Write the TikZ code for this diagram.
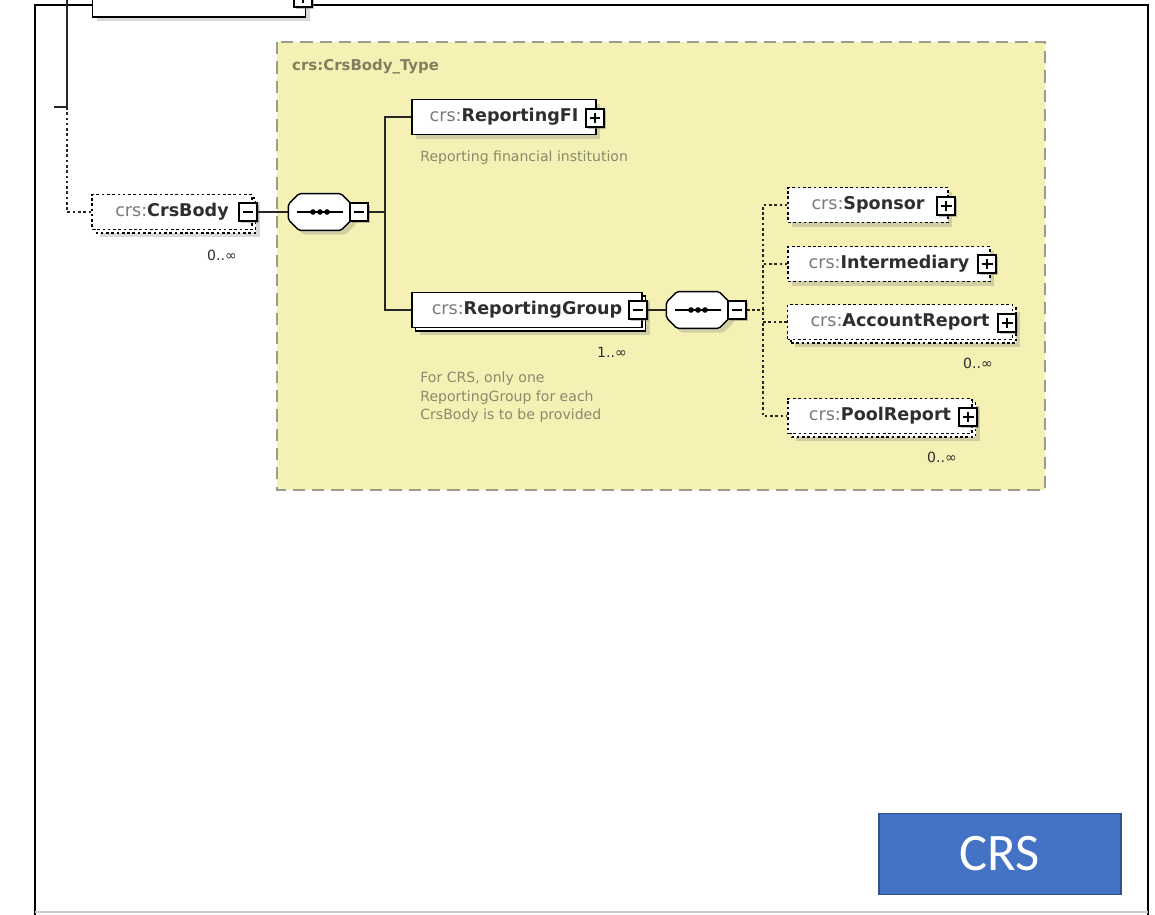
\documentclass[tikz,border=0pt]{standalone}
\usepackage{fontspec}
\setmainfont{DejaVu Sans}
\newfontfamily\crsfont{Carlito}
\usetikzlibrary{shadows}

\definecolor{typeyellow}{HTML}{F5F1B5}
\definecolor{typeborder}{HTML}{9C9C8C}
\definecolor{pfxgray}{HTML}{7A7A7A}
\definecolor{namedark}{HTML}{2E2E2E}
\definecolor{notegray}{HTML}{8A8A6C}
\definecolor{crsblue}{HTML}{4472C4}
\definecolor{crsedge}{HTML}{2F528F}

\newcommand{\elname}[1]{{\color{pfxgray}crs:}{\bfseries\color{namedark}#1}}

% sequence compositor: octagon with the three-dot line inside
\newcommand{\seqnode}[2]{%
  \node[seqbox] (#1) at (#2) {};
  \filldraw[seqedge] ([xshift=6pt]#1.north west) -- ([xshift=-6pt]#1.north east)
    -- ([yshift=-6pt]#1.north east) -- ([yshift=6pt]#1.south east)
    -- ([xshift=-6pt]#1.south east) -- ([xshift=6pt]#1.south west)
    -- ([yshift=6pt]#1.south west) -- ([yshift=-6pt]#1.north west) -- cycle;
  \draw[line width=1pt] ([xshift=5pt]#1.west) -- ([xshift=-5pt]#1.east);
  \foreach \dx in {-4pt,0pt,4pt}
    \fill ([xshift=\dx]#1.center) circle (1.6pt);
}

\tikzset{
  elem/.style={draw=black, fill=white, line width=0.7pt, minimum height=0.7cm,
    font=\fontsize{10}{11}\selectfont},
  single/.style={drop shadow={shadow xshift=2.5pt, shadow yshift=-2.5pt, opacity=0.3}},
  multi/.style={drop shadow={shadow xshift=4.5pt, shadow yshift=-4.5pt, opacity=0.3},
    copy shadow={shadow xshift=2pt, shadow yshift=-2pt}},
  optional/.style={dash pattern=on 1.5pt off 1.5pt},
  icon/.style={draw=black, fill=white, line width=1pt, minimum size=0.36cm, inner sep=0pt,
    drop shadow={shadow xshift=1pt, shadow yshift=-1pt, opacity=0.5}},
  plusicon/.style={icon, path picture={
    \draw[line width=0.6pt] ([yshift=-2pt]path picture bounding box.north) -- ([yshift=2pt]path picture bounding box.south)
      ([xshift=2pt]path picture bounding box.west) -- ([xshift=-2pt]path picture bounding box.east);}},
  minusicon/.style={icon, path picture={
    \draw[line width=0.6pt] ([xshift=2pt]path picture bounding box.west) -- ([xshift=-2pt]path picture bounding box.east);}},
  seqbox/.style={minimum width=1.25cm, minimum height=0.72cm, inner sep=0pt},
  seqedge/.style={draw=black, fill=white, line width=0.8pt, rounded corners=1pt,
    drop shadow={shadow xshift=2.5pt, shadow yshift=-2.5pt, opacity=0.3}},
  note/.style={font=\fontsize{8}{10.8}\selectfont, text=notegray, align=left, anchor=north west, inner sep=0pt},
  occurs/.style={font=\fontsize{8}{9}\selectfont, text=namedark, inner sep=0pt},
  solidlink/.style={draw=black!85, line width=0.8pt},
  optlink/.style={draw=black!85, line width=0.8pt, dash pattern=on 1.5pt off 1.5pt}
}

\begin{document}
\begin{tikzpicture}[x=0.02cm, y=-0.02cm]
    \useasboundingbox (0,0) rectangle (1155,915);
    \clip (0,0) rectangle (1155,915);

    % page frame
    \draw[line width=1.3pt] (35,920) -- (35,5) -- (1148,5) -- (1148,920);
    \draw[black!20, line width=1pt] (35,912) -- (1148,912);

    % complex type area
    \draw[typeborder, fill=typeyellow, line width=1.3pt, dash pattern=on 7pt off 4pt]
        (277,42) rectangle (1045,490);
    \node[anchor=west, font=\fontsize{8.5}{10}\selectfont\bfseries, text=black!60!olive!70] (typename) at (286,67) {crs:CrsBody\_Type};

    % elements
    \node[elem, single, minimum width=4.26cm, minimum height=1cm] (prev) at (199,-8) {};
    \node[plusicon] (mp) at (303,-2) {};

    \node[elem, multi, optional, minimum width=3.2cm] (body) at (172,212) {\elname{CrsBody}\hspace{10pt}};
    \node[minusicon] (m0) at (248,212) {};
    \node[occurs] (o0) at (222,255) {0..∞};

    \seqnode{s1}{320,212}
    \node[minusicon] (m1) at (359,212) {};

    \node[elem, single, minimum width=3.68cm] (fi) at (504,117) {\elname{ReportingFI}\hspace{10pt}};
    \node[plusicon] (mf) at (595,118) {};
    \node[note] (fitxt) at (420,150) {Reporting financial institution};

    \node[elem, multi, minimum width=4.6cm] (grp) at (527,310) {\elname{ReportingGroup}\hspace{10pt}};
    \node[minusicon] (mg) at (638,310) {};
    \node[occurs] (og) at (612,352) {1..∞};
    \node[note] (grptxt) at (420,371) {For CRS, only one\\ReportingGroup for each\\CrsBody is to be provided};

    \seqnode{s2}{698,310}
    \node[minusicon] (m2) at (737,310) {};

    \node[elem, single, optional, minimum width=3.2cm] (sp) at (868,205) {\elname{Sponsor}\hspace{10pt}};
    \node[plusicon] (msp) at (946,206) {};
    \node[elem, single, optional, minimum width=4.04cm] (im) at (889,264) {\elname{Intermediary}\hspace{10pt}};
    \node[plusicon] (mim) at (987,264) {};
    \node[elem, multi, optional, minimum width=4.5cm] (ar) at (900,322) {\elname{AccountReport}\hspace{10pt}};
    \node[plusicon] (mar) at (1007,323) {};
    \node[occurs] (oar) at (978,363) {0..∞};
    \node[elem, multi, optional, minimum width=3.68cm] (pr) at (880,416) {\elname{PoolReport}\hspace{10pt}};
    \node[plusicon] (mpr) at (968,417) {};
    \node[occurs] (opr) at (942,457) {0..∞};

    % connectors
    \coordinate (trunk) at (67,-5);
    \coordinate (knee) at (67,107);
    \coordinate (tick) at (54,107);
    \coordinate (bar1) at (385,212);
    \coordinate (bar2) at (763,310);

    \draw[solidlink] (trunk) -- (knee) -- (tick);
    \draw[optlink] (knee) |- (body.west);
    \draw[solidlink] (m0.east) -- (s1.west);
    \draw[solidlink] (m1.east) -- (bar1);
    \draw[solidlink] (fi.west) -| (bar1) |- (grp.west);
    \draw[solidlink] (mg.east) -- (s2.west);
    \draw[optlink] (m2.east) -- (bar2);
    \draw[optlink] (sp.west) -| (bar2) |- (pr.west);
    \draw[optlink] (im.west) -- (im.west -| bar2);
    \draw[optlink] (ar.west) -- (ar.west -| bar2);

    % label box
    \node[draw=crsedge, fill=crsblue, line width=1pt, minimum width=4.84cm, minimum height=1.62cm,
        text=white, font=\crsfont\fontsize{30}{32}\selectfont] (crs) at (1000,854) {CRS};
\end{tikzpicture}
\end{document}
